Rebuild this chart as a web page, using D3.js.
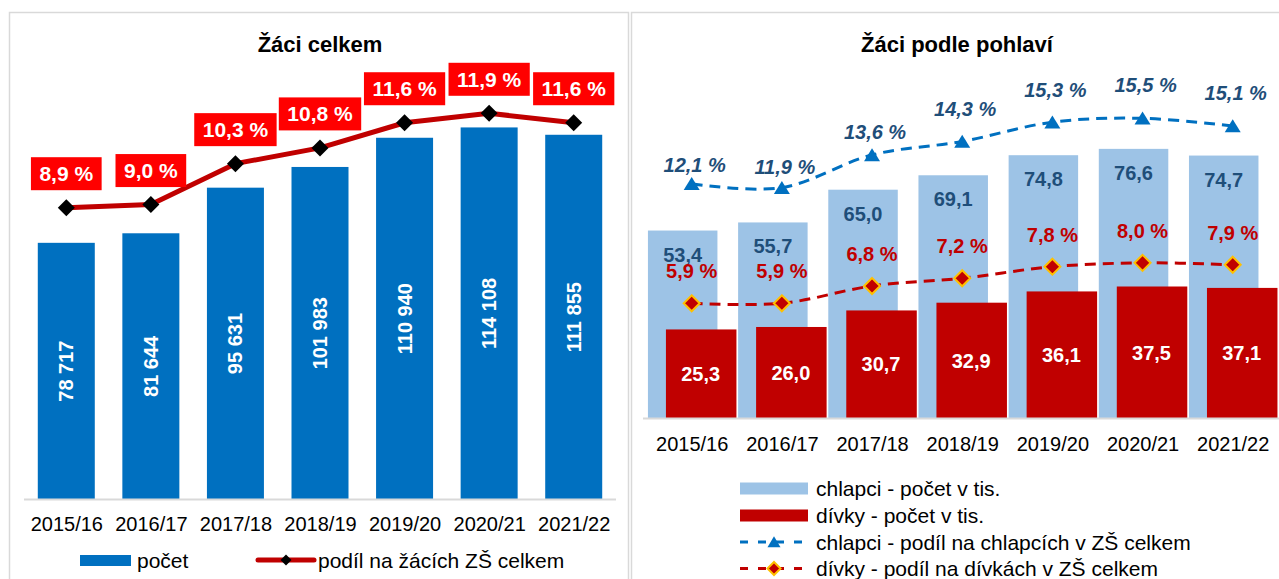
<!DOCTYPE html>
<html lang="cs">
<head>
<meta charset="utf-8">
<script src="https://cdn.jsdelivr.net/npm/d3@7/dist/d3.min.js"></script>
<style>
  html, body { margin: 0; padding: 0; background: #fff; }
  svg { display: block; font-family: "Liberation Sans", Arial, sans-serif; }
</style>
</head>
<body>
<svg id="chart" width="1279" height="579"></svg>
<script>
// School years on the category axis
const years = ["2015/16", "2016/17", "2017/18", "2018/19", "2019/20", "2020/21", "2021/22"];

// Left panel: pupils in total and their share of all ZŠ pupils (%)
const pupilsTotal = [78717, 81644, 95631, 101983, 110940, 114108, 111855];
const shareTotal = [8.9, 9.0, 10.3, 10.8, 11.6, 11.9, 11.6];

// Right panel: boys and girls (thousands) and their shares (%)
const boysThousands = [53.4, 55.7, 65.0, 69.1, 74.8, 76.6, 74.7];
const girlsThousands = [25.3, 26.0, 30.7, 32.9, 36.1, 37.5, 37.1];
const boysShare = [12.1, 11.9, 13.6, 14.3, 15.3, 15.5, 15.1];
const girlsShare = [5.9, 5.9, 6.8, 7.2, 7.8, 8.0, 7.9];

// Label lift above the boys' share markers (layout only)
const boysLabelLift = [19, 21, 23, 32, 32, 33, 33];

const cs = d3.formatLocale({ decimal: ",", thousands: " ", grouping: [3], currency: ["", " Kč"] });
const fmtInt = cs.format(",d");
const fmt1 = cs.format(".1f");

const BLUE = "#0070c0", DARK_RED = "#c00000", RED = "#ff0000",
      LIGHT_BLUE = "#9dc3e6", NAVY = "#1f4e79", GOLD = "#ffc000", GRID = "#d9d9d9";

const svg = d3.select("#chart");

// Panel frames
svg.append("rect").attr("x", 9.5).attr("y", 12.5).attr("width", 619).attr("height", 600)
  .attr("fill", "#fff").attr("stroke", GRID).attr("stroke-width", 1.5);
svg.append("rect").attr("x", 631.5).attr("y", 12.5).attr("width", 700).attr("height", 600)
  .attr("fill", "#fff").attr("stroke", GRID).attr("stroke-width", 1.5);

const diamondPath = (cx, cy, r) => `M${cx},${cy - r}L${cx + r},${cy}L${cx},${cy + r}L${cx - r},${cy}Z`;
const trianglePath = (cx, cy, w, h) => `M${cx},${cy - h * 0.52}L${cx + w / 2},${cy + h * 0.48}L${cx - w / 2},${cy + h * 0.48}Z`;

/* ---------------- Left panel: Žáci celkem ---------------- */
const L = svg.append("g");
const xL = d3.scalePoint().domain(years).range([24, 616]).padding(0.5);
const yL = d3.scaleLinear().domain([0, 140000]).range([499.5, 43]);
const pL = d3.scaleLinear().domain([0, 14]).range([487.8, 47.2]);
const bwL = xL.step() * 0.674;

L.append("text").attr("x", 320).attr("y", 52).attr("text-anchor", "middle")
  .attr("font-size", 22).attr("font-weight", "bold").attr("fill", "#000").text("Žáci celkem");

L.selectAll("rect.bar").data(years).join("rect").attr("class", "bar")
  .attr("x", d => xL(d) - bwL / 2).attr("width", bwL)
  .attr("y", (d, i) => yL(pupilsTotal[i])).attr("height", (d, i) => yL(0) - yL(pupilsTotal[i]))
  .attr("fill", BLUE);

// Category axis
const axL = L.append("g").attr("transform", `translate(0,${yL(0)})`)
  .call(d3.axisBottom(xL).tickSize(0).tickPadding(0));
axL.select(".domain").attr("d", "M24,0H616").attr("stroke", GRID).attr("stroke-width", 2);
axL.selectAll("text").attr("dy", null).attr("y", 31).attr("font-size", 20)
  .attr("font-family", "Liberation Sans, Arial, sans-serif").attr("fill", "#000");

// Values inside bars, rotated
L.selectAll("text.val").data(years).join("text").attr("class", "val")
  .attr("transform", (d, i) => `translate(${xL(d)},${(yL(pupilsTotal[i]) + yL(0)) / 2}) rotate(-90)`)
  .attr("text-anchor", "middle").attr("dominant-baseline", "central")
  .attr("font-size", 20).attr("font-weight", "bold").attr("fill", "#fff")
  .text((d, i) => fmtInt(pupilsTotal[i]));

// Share line
L.append("path").datum(years)
  .attr("d", d3.line().x(d => xL(d)).y((d, i) => pL(shareTotal[i])))
  .attr("fill", "none").attr("stroke", DARK_RED).attr("stroke-width", 5).attr("stroke-linejoin", "round");
L.selectAll("path.mk").data(years).join("path").attr("class", "mk")
  .attr("d", (d, i) => diamondPath(xL(d), pL(shareTotal[i]), 8.5)).attr("fill", "#000");

// Share labels in red boxes
const boxG = L.selectAll("g.box").data(years).join("g").attr("class", "box")
  .attr("transform", (d, i) => `translate(${xL(d)},${pL(shareTotal[i]) - 34})`);
boxG.append("rect").attr("fill", RED);
boxG.append("text").attr("text-anchor", "middle").attr("dominant-baseline", "central")
  .attr("font-size", 21).attr("font-weight", "bold").attr("fill", "#fff")
  .text((d, i) => fmt1(shareTotal[i]) + " %")
  .each(function () {
    const w = this.getComputedTextLength() + 17;
    d3.select(this.parentNode).select("rect")
      .attr("x", -w / 2).attr("y", -16.5).attr("width", w).attr("height", 33);
  });

// Legend
const lgL = L.append("g");
lgL.append("rect").attr("x", 80).attr("y", 555).attr("width", 51).attr("height", 11).attr("fill", BLUE);
lgL.append("text").attr("x", 137).attr("y", 560).attr("dominant-baseline", "central")
  .attr("font-size", 21).text("počet");
lgL.append("line").attr("x1", 258).attr("x2", 314).attr("y1", 560).attr("y2", 560)
  .attr("stroke", DARK_RED).attr("stroke-width", 5).attr("stroke-linecap", "round");
lgL.append("path").attr("d", diamondPath(286, 560, 5.5)).attr("fill", "#000");
lgL.append("text").attr("x", 318).attr("y", 560).attr("dominant-baseline", "central")
  .attr("font-size", 21).text("podíl na žácích ZŠ celkem");

/* ---------------- Right panel: Žáci podle pohlaví ---------------- */
const R = svg.append("g");
const xR = d3.scalePoint().domain(years).range([646.6, 1277.8]).padding(0.5);
const yR = d3.scaleLinear().domain([0, 100]).range([418.5, 66.5]);
const pR = d3.scaleLinear().domain([0, 18]).range([417, 417 - 18 * 19.27]);
const bwR = 69.5, shift = 9;

R.append("text").attr("x", 957).attr("y", 52).attr("text-anchor", "middle")
  .attr("font-size", 22).attr("font-weight", "bold").attr("fill", "#000").text("Žáci podle pohlaví");

R.selectAll("rect.boys").data(years).join("rect").attr("class", "boys")
  .attr("x", d => xR(d) - shift - bwR / 2).attr("width", bwR)
  .attr("y", (d, i) => yR(boysThousands[i])).attr("height", (d, i) => yR(0) - yR(boysThousands[i]))
  .attr("fill", LIGHT_BLUE);

R.selectAll("text.boysVal").data(years).join("text").attr("class", "boysVal")
  .attr("x", d => xR(d) - shift).attr("y", (d, i) => yR(boysThousands[i]) + 24)
  .attr("text-anchor", "middle").attr("dominant-baseline", "central")
  .attr("font-size", 20).attr("font-weight", "bold").attr("fill", NAVY)
  .text((d, i) => fmt1(boysThousands[i]));

R.selectAll("rect.girls").data(years).join("rect").attr("class", "girls")
  .attr("x", d => xR(d) + shift - bwR / 2).attr("width", bwR + 1)
  .attr("y", (d, i) => yR(girlsThousands[i])).attr("height", (d, i) => yR(0) - yR(girlsThousands[i]))
  .attr("fill", DARK_RED);

R.selectAll("text.girlsVal").data(years).join("text").attr("class", "girlsVal")
  .attr("x", d => xR(d) + shift).attr("y", (d, i) => (yR(girlsThousands[i]) + yR(0)) / 2)
  .attr("text-anchor", "middle").attr("dominant-baseline", "central")
  .attr("font-size", 20).attr("font-weight", "bold").attr("fill", "#fff")
  .text((d, i) => fmt1(girlsThousands[i]));

// Category axis
const axR = R.append("g").attr("transform", `translate(0,${yR(0)})`)
  .call(d3.axisBottom(xR).tickSize(0).tickPadding(0));
axR.select(".domain").attr("d", "M643,0H1279").attr("stroke", GRID).attr("stroke-width", 2);
axR.selectAll("text").attr("dy", null).attr("y", 32).attr("font-size", 20)
  .attr("font-family", "Liberation Sans, Arial, sans-serif").attr("fill", "#000");

// Share lines (smoothed, dashed)
const smooth = d3.curveCatmullRom.alpha(0);
R.append("path").datum(years)
  .attr("d", d3.line().curve(smooth).x(d => xR(d)).y((d, i) => pR(boysShare[i])))
  .attr("fill", "none").attr("stroke", BLUE).attr("stroke-width", 3).attr("stroke-dasharray", "11,7");
R.append("path").datum(years)
  .attr("d", d3.line().curve(smooth).x(d => xR(d)).y((d, i) => pR(girlsShare[i])))
  .attr("fill", "none").attr("stroke", DARK_RED).attr("stroke-width", 3).attr("stroke-dasharray", "11,7");

R.selectAll("path.tri").data(years).join("path").attr("class", "tri")
  .attr("d", (d, i) => trianglePath(xR(d), pR(boysShare[i]), 16, 13)).attr("fill", BLUE);
R.selectAll("path.dia").data(years).join("path").attr("class", "dia")
  .attr("d", (d, i) => diamondPath(xR(d), pR(girlsShare[i]), 8)).attr("fill", DARK_RED)
  .attr("stroke", GOLD).attr("stroke-width", 2);

R.selectAll("text.boysPct").data(years).join("text").attr("class", "boysPct")
  .attr("x", d => xR(d) + 3).attr("y", (d, i) => pR(boysShare[i]) - boysLabelLift[i])
  .attr("text-anchor", "middle").attr("dominant-baseline", "central")
  .attr("font-size", 20).attr("font-weight", "bold").attr("font-style", "italic").attr("fill", NAVY)
  .text((d, i) => fmt1(boysShare[i]) + " %");

R.selectAll("text.girlsPct").data(years).join("text").attr("class", "girlsPct")
  .attr("x", d => xR(d)).attr("y", (d, i) => pR(girlsShare[i]) - 32)
  .attr("text-anchor", "middle").attr("dominant-baseline", "central")
  .attr("font-size", 20).attr("font-weight", "bold").attr("fill", DARK_RED)
  .text((d, i) => fmt1(girlsShare[i]) + " %");

// Legend
const lgR = R.append("g");
const rows = [488.5, 515.5, 542, 568.5];
lgR.append("rect").attr("x", 740).attr("y", rows[0] - 6).attr("width", 68).attr("height", 12).attr("fill", LIGHT_BLUE);
lgR.append("rect").attr("x", 740).attr("y", rows[1] - 6).attr("width", 68).attr("height", 12).attr("fill", DARK_RED);
lgR.append("line").attr("x1", 740).attr("x2", 808).attr("y1", rows[2]).attr("y2", rows[2])
  .attr("stroke", BLUE).attr("stroke-width", 3).attr("stroke-dasharray", "8,10");
lgR.append("path").attr("d", trianglePath(774, rows[2], 13, 11)).attr("fill", BLUE);
lgR.append("line").attr("x1", 740).attr("x2", 808).attr("y1", rows[3]).attr("y2", rows[3])
  .attr("stroke", DARK_RED).attr("stroke-width", 3).attr("stroke-dasharray", "8,10");
lgR.append("path").attr("d", diamondPath(774, rows[3], 6.5)).attr("fill", DARK_RED)
  .attr("stroke", GOLD).attr("stroke-width", 2);
const legendTexts = ["chlapci - počet v tis.", "dívky - počet v tis.",
  "chlapci - podíl na chlapcích v ZŠ celkem", "dívky - podíl na dívkách v ZŠ celkem"];
lgR.selectAll("text").data(legendTexts).join("text")
  .attr("x", 816).attr("y", (d, i) => rows[i]).attr("dominant-baseline", "central")
  .attr("font-size", 21).attr("fill", "#000").text(d => d);
</script>
</body>
</html>
